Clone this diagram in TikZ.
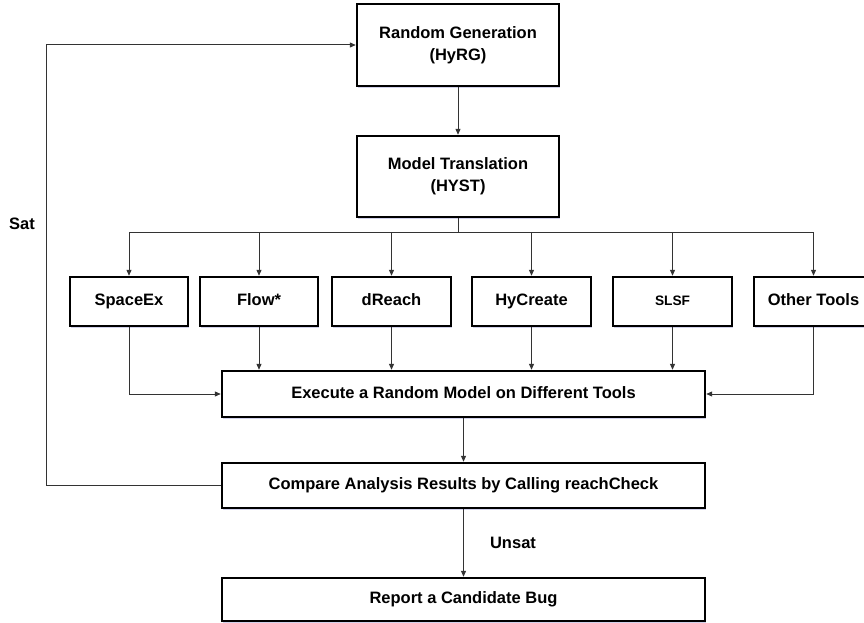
\documentclass[tikz,border=0pt]{standalone}
\usepackage{fontspec}
\setmainfont{Liberation Sans}
\usetikzlibrary{arrows.meta,shadows}
\begin{document}
\begin{tikzpicture}[x=1pt,y=-1pt,
 box/.style={draw=black,line width=2.4pt,fill=white,inner sep=0pt,align=center,
   font=\fontsize{16.5}{22}\selectfont\bfseries,
   drop shadow={shadow xshift=1.2pt,shadow yshift=-1.6pt,fill=blue!40!gray,opacity=0.25}},
 oneline/.style={text height=12pt,text depth=3.5pt},
 toolbox/.style={box,oneline,minimum width=119pt,minimum height=49pt},
 widebox/.style={box,oneline,minimum width=483pt},
 conn/.style={line width=1pt,draw=black!80},
 arr/.style={conn,-{Triangle[length=6pt,width=5pt]}},
 lbl/.style={font=\fontsize{16.5}{20}\selectfont\bfseries}]
\useasboundingbox (0,0) rectangle (864,623);
\fill[white] (0,0) rectangle (864,623);

\node[box,minimum width=202pt,minimum height=82pt] (rg) at (458,45) {Random Generation\\(HyRG)};
\node[box,minimum width=202pt,minimum height=81pt] (mt) at (458,176.5) {Model Translation\\(HYST)};

\node[toolbox,minimum width=118pt] (sx) at (129,301.5) {SpaceEx};
\node[toolbox,minimum width=118pt] (fl) at (259,301.5) {Flow*};
\node[toolbox] (dr) at (391.5,301.5) {dReach};
\node[toolbox] (hc) at (531.5,301.5) {HyCreate};
\node[toolbox,font=\fontsize{13.7}{16}\selectfont\bfseries] (sl) at (672.5,301.5) {SLSF};
\node[toolbox] (ot) at (813.5,301.5) {Other Tools};

\node[widebox,minimum height=46pt] (ex) at (463.5,394) {Execute a Random Model on Different Tools};
\node[widebox,minimum height=45pt] (cp) at (463.5,485.5) {Compare Analysis Results by Calling reachCheck};
\node[widebox,minimum height=43pt] (rp) at (463.5,599.5) {Report a Candidate Bug};

\draw[arr] (rg) -- (mt);
\coordinate (d) at (458,232);
\draw[conn] (mt.south) -- (d);
\foreach \t in {sx,fl,dr,hc,sl,ot}{\draw[arr] (d) -| (\t.north);}

\draw[arr] (sx.south) |- (ex.west);
\foreach \t in {fl,dr,hc,sl}{\draw[arr] (\t.south) -- (\t.south |- ex.north);}
\draw[arr] (ot.south) |- (ex.east);

\draw[arr] (ex) -- (cp);
\draw[arr] (cp) -- (rp);
\draw[arr] (cp.west) -- ++(-174,0) |- (rg.west);

\node[lbl] (sat) at (22,224) {Sat};
\node[lbl] (unsat) at (513,543) {Unsat};
\end{tikzpicture}
\end{document}
